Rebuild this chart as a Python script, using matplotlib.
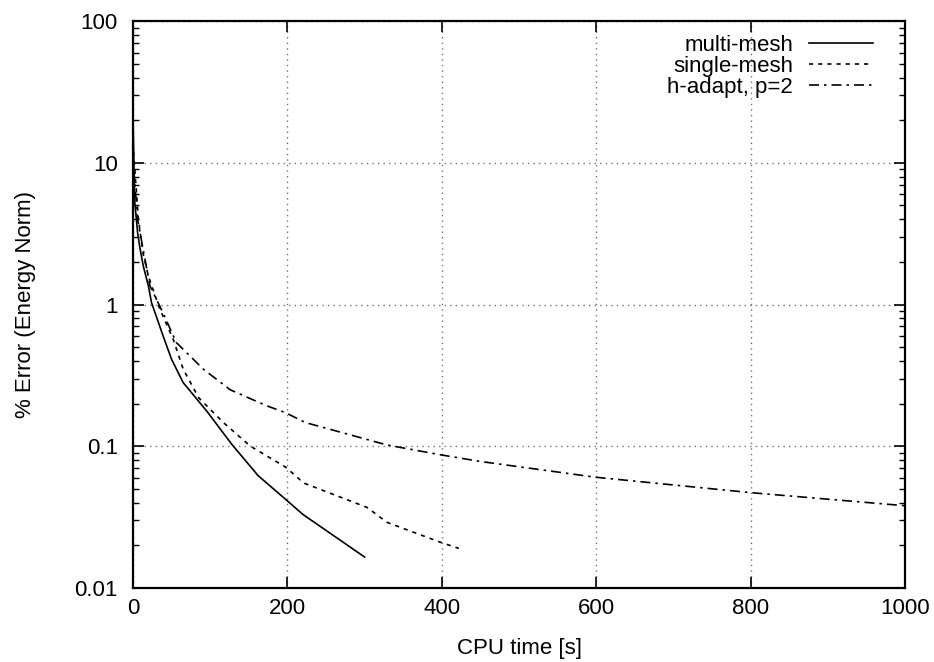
import matplotlib
matplotlib.use("Agg")
import matplotlib.pyplot as plt
from matplotlib.ticker import LogLocator, FixedLocator, NullFormatter

# data (CPU time [s], % error)
multi_t = [0.3, 2, 6, 9, 13.4, 20, 24, 39, 50, 65, 95.5, 128, 162, 198, 220, 300]
multi_e = [17, 5.5, 3.2, 2.5, 1.86, 1.35, 1.03, 0.60, 0.41, 0.281, 0.177, 0.103, 0.062, 0.042, 0.033, 0.0165]

single_t = [0.6, 7, 13, 20, 35, 52, 65, 85, 117, 152, 198, 221, 303, 329, 398, 422]
single_e = [12, 4.0, 2.3, 1.58, 0.92, 0.57, 0.35, 0.22, 0.147, 0.1, 0.071, 0.055, 0.037, 0.029, 0.021, 0.019]

hadapt_t = [1, 6, 14, 22, 39, 56, 91, 126, 173, 198, 223, 329, 398, 450, 599, 800, 1000]
hadapt_e = [9, 4.0, 2.3, 1.35, 0.87, 0.54, 0.35, 0.25, 0.193, 0.172, 0.147, 0.102, 0.087, 0.078, 0.0604, 0.047, 0.038]

x_ticks = [0, 200, 400, 600, 800, 1000]
y_ticks = [0.01, 0.1, 1, 10, 100]
y_labels = ["0.01", "0.1", "1", "10", "100"]

plt.rcParams['font.family'] = ['Liberation Sans', 'DejaVu Sans']
fs = 16

fig = plt.figure(figsize=(9.34, 6.62), dpi=100)
ax = fig.add_axes([0.1424, 0.112, 0.969 - 0.1424, 0.968 - 0.112])

ax.plot(multi_t, multi_e, color='black', lw=1.2, ls='-', label='multi-mesh')
ax.plot(single_t, single_e, color='black', lw=1.2, ls=(0, (2.5, 3)), label='single-mesh')
ax.plot(hadapt_t, hadapt_e, color='black', lw=1.2, ls=(0, (6, 3, 1.5, 3)), label='h-adapt, p=2')

ax.set_yscale('log')
ax.set_xlim(0, 1000)
ax.set_ylim(0.01, 100)

ax.xaxis.set_major_locator(FixedLocator(x_ticks))
ax.yaxis.set_major_locator(FixedLocator(y_ticks))
ax.set_yticklabels(y_labels)
ax.yaxis.set_minor_locator(LogLocator(base=10, subs=range(2, 10)))
ax.yaxis.set_minor_formatter(NullFormatter())

ax.tick_params(which='both', direction='in', top=True, right=True, labelsize=fs)
ax.tick_params(axis='y', pad=11)
ax.tick_params(axis='x', pad=7)
ax.tick_params(which='major', length=8, width=1.2)
ax.tick_params(which='minor', length=4, width=1.0)

ax.grid(True, which='major', color='0.45', ls=(0, (1, 3)), lw=1.0)

for s in ax.spines.values():
    s.set_linewidth(1.6)

ax.set_xlabel('CPU time [s]', fontsize=fs)
ax.set_ylabel('% Error (Energy Norm)', fontsize=fs)
ax.xaxis.set_label_coords(0.5, -0.089)
ax.yaxis.set_label_coords(-0.126, 0.5)

leg = ax.legend(loc='upper right', bbox_to_anchor=(0.970, 0.992), frameon=False,
                markerfirst=False, fontsize=fs, handlelength=2.9, labelspacing=0.0,
                borderaxespad=0.0, handletextpad=0.7)
for t in leg.get_texts():
    t.set_ha('right')

fig.savefig('out.png', dpi=100)
